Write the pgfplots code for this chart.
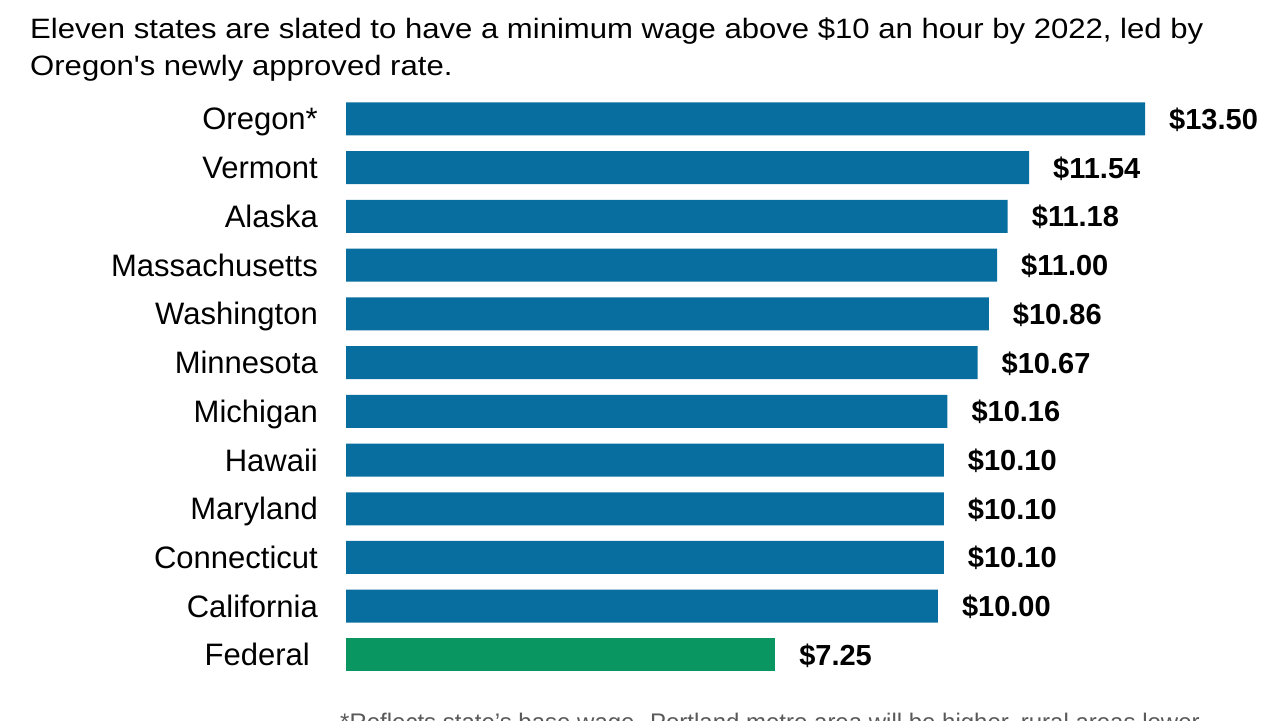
\documentclass[border=0pt]{standalone}
\usepackage{pgfplots}
\pgfplotsset{compat=1.18}
\usepackage{fontspec}
\setmainfont{Liberation Sans}
\newfontfamily\widefont[FakeStretch=1.11]{Liberation Sans}
\definecolor{barblue}{RGB}{8,110,160}
\definecolor{bargreen}{RGB}{10,150,96}
\begin{document}
\begin{tikzpicture}[x=1pt,y=1pt]
\useasboundingbox (0,0) rectangle (1279,720);
\clip (0,0) rectangle (1279,720);
\node[anchor=base west, inner sep=0pt, font=\widefont\fontsize{28}{34}\selectfont] at (30,681) {Eleven states are slated to have a minimum wage above \$10 an hour by 2022, led by};
\node[anchor=base west, inner sep=0pt, font=\widefont\fontsize{28}{34}\selectfont] at (30,644) {Oregon's newly approved rate.};
\node[anchor=base west, inner sep=0pt, font=\fontsize{24}{28}\selectfont, text=black!65] at (340,-10) {*Reflects state's base wage. Portland metro area will be higher, rural areas lower.};
\begin{axis}[
  at={(346pt,625.4pt)}, anchor=north west,
  scale only axis, width=799pt, height=584.7pt,
  xmin=0, xmax=13.5, ymin=-0.5, ymax=11.5,
  y dir=reverse, clip=false,
  axis line style={draw=none},
  major tick length=0pt,
  xtick=\empty,
  ytick={0,...,11},
  yticklabels={Oregon*,Vermont,Alaska,Massachusetts,Washington,Minnesota,Michigan,Hawaii,Maryland,Connecticut,California,Federal\kern8pt},
  yticklabel style={font=\fontsize{31}{34}\selectfont, inner sep=0pt, xshift=-28pt, anchor=base east, yshift=-11pt},
  /pgf/number format/assume math mode=true,
  xbar, bar width=33pt, bar shift=0pt,
  point meta=x,
  nodes near coords={\$\pgfmathprintnumber[fixed,fixed zerofill,precision=2]{\pgfplotspointmeta}},
  every node near coord/.append style={anchor=base west, inner sep=0pt, xshift=24pt, yshift=-10.5pt, font=\fontsize{29}{34}\selectfont\bfseries, text=black},
]
\addplot[fill=barblue, draw=none] table[x=x,y=y] {
y x
0 13.50
1 11.54
2 11.18
3 11.00
4 10.86
5 10.67
6 10.16
7 10.10
8 10.10
9 10.10
10 10.00
};
\addplot[fill=bargreen, draw=none] table[x=x,y=y] {
y x
11 7.25
};
\end{axis}
\end{tikzpicture}
\end{document}
